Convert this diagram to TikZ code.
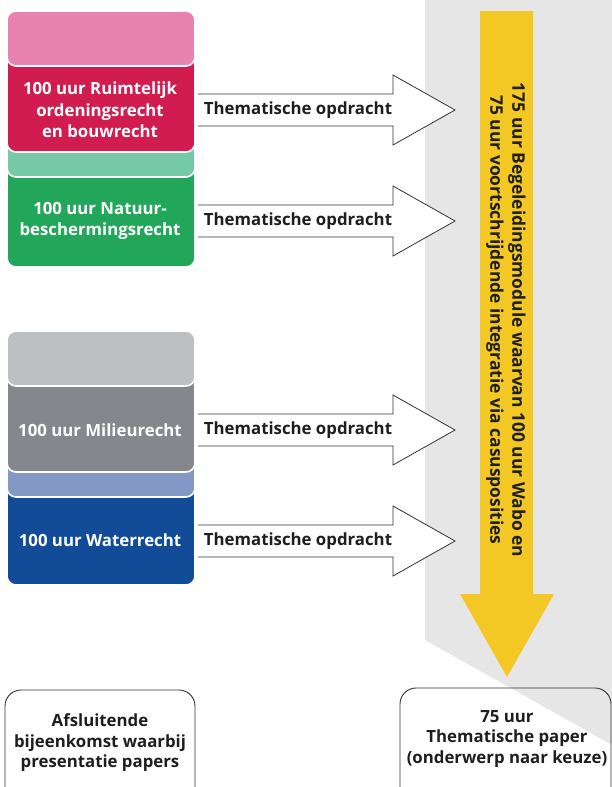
\documentclass[tikz,border=0pt]{standalone}
\usepackage{fontspec}
\setmainfont{Open Sans}
\definecolor{bggray}{RGB}{230,230,230}
\definecolor{yellowc}{RGB}{244,200,36}
\definecolor{pinkc}{RGB}{232,130,176}
\definecolor{redc}{RGB}{208,28,79}
\definecolor{lgreenc}{RGB}{118,201,166}
\definecolor{greenc}{RGB}{34,167,90}
\definecolor{lgrayc}{RGB}{189,192,195}
\definecolor{dgrayc}{RGB}{132,135,139}
\definecolor{lbluec}{RGB}{131,152,197}
\definecolor{dbluec}{RGB}{18,76,152}
\definecolor{inkc}{RGB}{30,30,30}
\definecolor{linec}{RGB}{50,50,50}
\begin{document}
\begin{tikzpicture}[x=1pt,y=-1pt,
  layer/.style={draw=white,line width=1.6pt,rounded corners=9pt},
  boxtext/.style={text=white,align=center,font=\fontsize{16.8}{21.5}\selectfont\bfseries,inner sep=0pt},
  arrowtext/.style={text=inkc,font=\fontsize{16.8}{20}\selectfont\bfseries,inner sep=0pt},
  blockarrow/.style={draw=linec,line width=0.8pt,fill=white,line join=miter},
  endbox/.style={draw=linec,line width=0.9pt,rounded corners=16pt},
  endtext/.style={text=inkc,align=center,font=\fontsize{16.8}{20.5}\selectfont\bfseries,inner sep=0pt}]
\useasboundingbox (0,0) rectangle (612,787);
% grey background band
\fill[bggray] (425,0) -- (612,0) -- (612,745) -- (425,640) -- cycle;
% yellow arrow
\fill[yellowc] (480,11) -- (533,11) -- (533,594) -- (554,594) -- (507,677) -- (460,594) -- (480,594) -- cycle;
\node[rotate=-90,align=center,text=inkc,inner sep=0pt,font=\fontsize{17.4}{22}\selectfont\bfseries] (ytext) at (506,320)
  {175 uur Begeleidingsmodule waarvan 100 uur Wabo en\\75 uur voortschrijdende integratie via casusposities};
% stack 1
\filldraw[layer,fill=greenc] (7,165) rectangle (195,267);
\filldraw[layer,fill=lgreenc] (7,140) rectangle (195,177);
\filldraw[layer,fill=redc] (7,40) rectangle (195,152);
\filldraw[layer,fill=pinkc] (7,11) rectangle (195,66);
\node[boxtext] (ruimte) at (100,110) {100 uur Ruimtelijk\\ordeningsrecht\\en bouwrecht};
\node[boxtext] (natuur) at (100,221) {100 uur Natuur-\\beschermingsrecht};
% stack 2
\filldraw[layer,fill=dbluec] (7,485) rectangle (195,585);
\filldraw[layer,fill=lbluec] (7,460) rectangle (195,497);
\filldraw[layer,fill=dgrayc] (7,360) rectangle (195,472);
\filldraw[layer,fill=lgrayc] (7,331) rectangle (195,386);
\node[boxtext] (milieu) at (100,430) {100 uur Milieurecht};
\node[boxtext] (water) at (100,540) {100 uur Waterrecht};
% thematic arrows
\foreach \cy/\nm in {110/ta,221/tb,430/tc,541/td}{
  \filldraw[blockarrow] (198,\cy-16) -- (393,\cy-16) -- (393,\cy-35) -- (455,\cy) -- (393,\cy+35) -- (393,\cy+16) -- (198,\cy+16);
  \node[arrowtext] (\nm) at (298,\cy) {Thematische opdracht};
}
% end boxes
\draw[endbox] (5,800) -- (5,690) -- (195,690) -- (195,800);
\node[endtext] (afsl) at (100,743) {Afsluitende\\bijeenkomst waarbij\\presentatie papers};
\draw[endbox] (400,800) -- (400,688) -- (611,688) -- (611,800);
\node[endtext] (paper) at (507,739) {75 uur\\Thematische paper\\(onderwerp naar keuze)};
\end{tikzpicture}
\end{document}
